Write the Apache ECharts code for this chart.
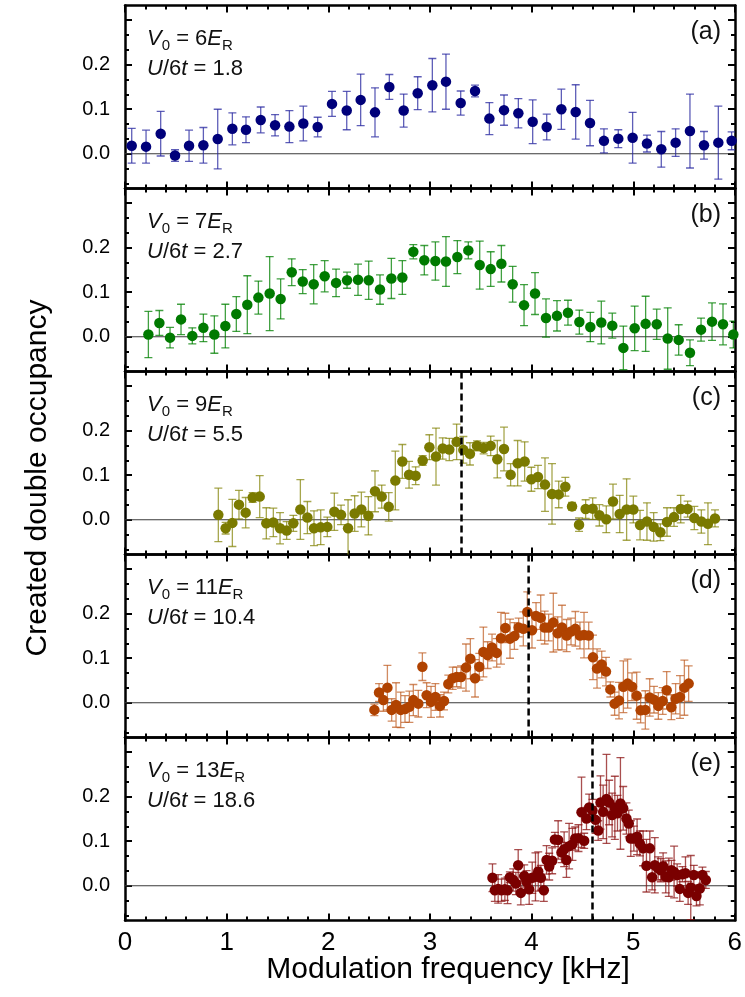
<!DOCTYPE html>
<html>
<head>
<meta charset="utf-8">
<script src="https://cdn.jsdelivr.net/npm/echarts@6/dist/echarts.min.js"></script>
<style>
  html, body { margin: 0; padding: 0; background: #fff; }
  #chart { width: 745px; height: 997px; }
</style>
</head>
<body>
<div id="chart"></div>
<script>
// Modulation frequency (kHz), created double occupancy and its error for each lattice depth
const freqA = [0.066,0.207,0.351,0.492,0.630,0.771,0.912,1.056,1.190,1.335,1.476,1.617,1.754,1.895,2.036,2.181,2.318,2.459,2.600,2.741,2.879,3.023,3.157,3.302,3.443,3.584,3.728,3.869,4.010,4.148,4.292,4.433,4.574,4.711,4.852,4.993,5.134,5.275,5.416,5.557,5.695,5.836,5.967];
const occA = [0.018,0.016,0.045,-0.004,0.018,0.019,0.033,0.056,0.054,0.076,0.064,0.061,0.068,0.060,0.112,0.097,0.121,0.093,0.150,0.097,0.136,0.154,0.162,0.114,0.141,0.079,0.098,0.091,0.072,0.060,0.100,0.094,0.069,0.029,0.034,0.036,0.023,0.010,0.025,0.051,0.019,0.025,0.029];
const errA = [0.039,0.037,0.05,0.013,0.035,0.04,0.067,0.036,0.029,0.029,0.024,0.036,0.039,0.022,0.028,0.043,0.058,0.055,0.028,0.037,0.037,0.06,0.062,0.027,0.013,0.036,0.034,0.033,0.049,0.029,0.045,0.061,0.051,0.027,0.02,0.057,0.019,0.04,0.031,0.083,0.031,0.082,0.02];

const freqB = [0.230,0.338,0.443,0.551,0.662,0.771,0.879,0.987,1.095,1.203,1.312,1.423,1.531,1.640,1.748,1.856,1.964,2.076,2.184,2.292,2.397,2.508,2.620,2.728,2.836,2.944,3.053,3.157,3.269,3.377,3.489,3.597,3.702,3.813,3.925,4.033,4.141,4.249,4.357,4.469,4.577,4.685,4.793,4.902,5.013,5.121,5.230,5.338,5.446,5.557,5.666,5.774,5.882,5.984];
const occB = [0.005,0.031,-0.002,0.039,0.002,0.020,0.005,0.024,0.051,0.072,0.088,0.097,0.085,0.145,0.124,0.118,0.136,0.121,0.127,0.128,0.127,0.106,0.131,0.133,0.191,0.172,0.170,0.169,0.179,0.194,0.161,0.152,0.164,0.118,0.071,0.097,0.042,0.047,0.054,0.033,0.022,0.032,0.025,-0.025,0.019,0.029,0.028,-0.004,-0.007,-0.036,0.016,0.034,0.028,0.005];
const errB = [0.052,0.028,0.023,0.034,0.018,0.031,0.042,0.049,0.039,0.065,0.037,0.083,0.045,0.03,0.027,0.044,0.035,0.031,0.018,0.035,0.043,0.033,0.045,0.038,0.016,0.033,0.043,0.056,0.037,0.019,0.054,0.039,0.041,0.040,0.046,0.047,0.043,0.034,0.028,0.027,0.033,0.048,0.028,0.049,0.05,0.062,0.034,0.069,0.034,0.029,0.026,0.042,0.046,0.03];

const freqC = [0.918,0.990,1.056,1.121,1.187,1.256,1.325,1.390,1.459,1.525,1.590,1.656,1.725,1.794,1.859,1.925,1.990,2.059,2.125,2.194,2.259,2.325,2.394,2.459,2.525,2.594,2.659,2.728,2.794,2.859,2.928,2.994,3.059,3.125,3.190,3.262,3.328,3.393,3.462,3.528,3.597,3.662,3.728,3.793,3.862,3.931,3.997,4.062,4.131,4.200,4.266,4.331,4.397,4.466,4.531,4.600,4.666,4.734,4.800,4.866,4.934,5.000,5.066,5.134,5.200,5.266,5.331,5.400,5.466,5.534,5.600,5.669,5.734,5.803];
const occC = [0.011,-0.019,-0.007,0.034,0.016,0.050,0.052,-0.008,-0.006,-0.019,-0.024,-0.008,0.023,0.005,-0.019,-0.017,-0.016,0.018,0.011,-0.019,0.014,0.023,0.009,0.064,0.052,0.029,0.088,0.131,0.101,0.099,0.133,0.163,0.142,0.160,0.158,0.175,0.157,0.148,0.166,0.161,0.166,0.136,0.159,0.101,0.127,0.131,0.091,0.096,0.079,0.058,0.057,0.074,0.030,-0.011,0.024,0.025,0.010,0.001,0.041,0.013,0.023,0.023,-0.012,-0.004,-0.016,-0.028,-0.005,0.006,0.024,0.024,0.004,-0.004,-0.009,0.003];
const errC = [0.06,0.013,0.053,0.032,0.034,0.011,0.047,0.035,0.032,0.035,0.02,0.018,0.067,0.036,0.039,0.039,0.022,0.042,0.022,0.064,0.04,0.039,0.043,0.046,0.026,0.032,0.066,0.038,0.03,0.02,0.011,0.028,0.064,0.024,0.025,0.04,0.03,0.025,0.011,0.013,0.022,0.042,0.049,0.025,0.051,0.044,0.027,0.026,0.06,0.068,0.03,0.021,0.009,0.015,0.021,0.024,0.024,0.03,0.039,0.042,0.069,0.03,0.033,0.042,0.032,0.019,0.032,0.021,0.031,0.018,0.026,0.026,0.047,0.019];

const freqD = [2.453,2.499,2.541,2.581,2.623,2.666,2.712,2.754,2.797,2.836,2.885,2.925,2.967,3.010,3.053,3.098,3.138,3.180,3.223,3.262,3.305,3.354,3.397,3.443,3.485,3.525,3.567,3.610,3.656,3.698,3.741,3.787,3.830,3.872,3.918,3.957,4.003,4.043,4.089,4.128,4.167,4.213,4.256,4.298,4.344,4.387,4.430,4.475,4.515,4.561,4.603,4.643,4.689,4.731,4.774,4.816,4.859,4.902,4.944,4.987,5.033,5.072,5.118,5.161,5.203,5.246,5.289,5.328,5.374,5.416,5.459,5.502,5.544];
const occD = [-0.016,0.023,0.006,0.034,-0.016,-0.005,-0.016,-0.014,-0.009,0.006,-0.002,0.081,0.017,0.002,0.013,-0.007,0.004,0.042,0.055,0.058,0.058,0.079,0.099,0.055,0.081,0.114,0.107,0.124,0.112,0.145,0.168,0.144,0.150,0.169,0.166,0.204,0.163,0.195,0.191,0.169,0.169,0.180,0.156,0.169,0.151,0.160,0.166,0.151,0.152,0.151,0.102,0.077,0.086,0.070,0.030,-0.002,0.005,0.036,0.043,0.036,0.016,-0.017,-0.016,0.012,0.007,-0.007,0.004,0.028,-0.010,0.009,0.013,0.034,0.043];
const errD = [0.013,0.02,0.025,0.05,0.025,0.05,0.04,0.03,0.035,0.035,0.03,0.031,0.028,0.035,0.03,0.025,0.02,0.02,0.025,0.022,0.025,0.053,0.045,0.042,0.03,0.056,0.03,0.03,0.032,0.058,0.033,0.044,0.03,0.021,0.038,0.045,0.04,0.03,0.051,0.037,0.03,0.066,0.037,0.05,0.036,0.03,0.039,0.03,0.051,0.03,0.05,0.044,0.03,0.032,0.017,0.026,0.041,0.058,0.055,0.031,0.053,0.028,0.043,0.042,0.03,0.03,0.03,0.042,0.028,0.034,0.048,0.062,0.04];

const freqE = [3.616,3.639,3.672,3.705,3.738,3.764,3.787,3.820,3.846,3.869,3.895,3.928,3.951,3.977,4.007,4.039,4.066,4.092,4.121,4.148,4.174,4.203,4.230,4.262,4.295,4.321,4.344,4.370,4.403,4.430,4.462,4.492,4.518,4.541,4.567,4.600,4.630,4.656,4.679,4.705,4.738,4.764,4.793,4.820,4.846,4.875,4.902,4.934,4.957,4.977,5.007,5.039,5.066,5.098,5.131,5.164,5.187,5.213,5.246,5.272,5.295,5.321,5.351,5.377,5.403,5.433,5.459,5.485,5.515,5.541,5.567,5.597,5.623,5.656,5.682,5.715];
const occE = [0.018,-0.010,-0.007,-0.010,-0.008,-0.010,0.019,0.013,0.005,0.046,-0.016,0.022,0.009,-0.008,0.018,0.020,0.032,0.018,-0.010,0.058,0.043,0.056,0.104,0.103,0.075,0.082,0.058,0.089,0.093,0.106,0.107,0.165,0.101,0.151,0.176,0.169,0.148,0.124,0.187,0.166,0.195,0.187,0.159,0.175,0.163,0.185,0.174,0.151,0.140,0.106,0.106,0.110,0.095,0.084,0.045,0.084,0.019,0.046,0.039,0.035,0.044,0.020,0.019,0.035,0.031,0.024,-0.007,0.026,0.028,-0.016,-0.004,0.024,-0.023,-0.006,0.024,0.013];
const errE = [0.031,0.025,0.032,0.025,0.025,0.03,0.012,0.025,0.025,0.035,0.027,0.025,0.025,0.034,0.035,0.054,0.044,0.028,0.025,0.032,0.03,0.029,0.016,0.043,0.023,0.039,0.039,0.051,0.036,0.026,0.03,0.079,0.017,0.025,0.03,0.025,0.03,0.022,0.06,0.06,0.1,0.05,0.049,0.071,0.04,0.103,0.049,0.035,0.03,0.04,0.028,0.04,0.028,0.039,0.059,0.039,0.028,0.062,0.026,0.026,0.03,0.036,0.043,0.022,0.058,0.025,0.028,0.017,0.037,0.026,0.072,0.022,0.022,0.037,0.018,0.019];

// Resonance positions marked by dashed lines (kHz); null where no marker is drawn
const resonance = [null, null, 3.31, 3.97, 4.60];

// Panel annotations
const panelTags = ['(a)', '(b)', '(c)', '(d)', '(e)'];
const latticeDepth = ['6', '7', '9', '11', '13'];
const ratioU6t = ['1.8', '2.7', '5.5', '10.4', '18.6'];

// Axis ticks
const yLabelValues = [0, 0.1, 0.2];
const yMajorTicks = [0, 0.1, 0.2, 0.3];
const yMinorTicks = [-0.0667, -0.0333, 0.0333, 0.0667, 0.1333, 0.1667, 0.2333, 0.2667];

const panels = [
  { x: freqA, y: occA, e: errA, color: '#00007a', bar: 'rgba(40,40,160,0.75)' },
  { x: freqB, y: occB, e: errB, color: '#007a00', bar: 'rgba(0,128,0,0.75)' },
  { x: freqC, y: occC, e: errC, color: '#7a7a00', bar: 'rgba(128,128,0,0.7)' },
  { x: freqD, y: occD, e: errD, color: '#b04200', bar: 'rgba(190,90,30,0.7)' },
  { x: freqE, y: occE, e: errE, color: '#7a0000', bar: 'rgba(140,20,20,0.75)' }
];

const FONT = '"Liberation Sans", Arial, sans-serif';
const Y_MIN = -0.078, Y_MAX = 0.333;
const GRID_LEFT = 125, GRID_W = 610, GRID_TOP = 5.5, GRID_H = 183;

const grids = [], xAxes = [], yAxes = [], series = [], graphics = [];

panels.forEach((p, i) => {
  const top = GRID_TOP + GRID_H * i;
  grids.push({ left: GRID_LEFT, width: GRID_W, top: top, height: GRID_H });

  const isLast = i === panels.length - 1;
  ['bottom', 'top'].forEach(pos => {
    xAxes.push({
      type: 'value', gridIndex: i, position: pos, min: 0, max: 6, interval: 1,
      axisLine: { show: true, onZero: false, lineStyle: { color: '#000', width: 2.5 } },
      axisTick: { show: true, inside: true, length: 7, lineStyle: { color: '#000', width: 2 } },
      minorTick: { show: true, splitNumber: 5, length: 4, lineStyle: { color: '#000', width: 2 } },
      splitLine: { show: false }, minorSplitLine: { show: false },
      axisLabel: (pos === 'bottom' && isLast)
        ? { show: true, fontSize: 26, fontFamily: FONT, color: '#000', margin: 9 }
        : { show: false }
    });
  });

  ['left', 'right'].forEach(pos => {
    yAxes.push({
      type: 'value', gridIndex: i, position: pos, min: Y_MIN, max: Y_MAX,
      axisLine: { show: true, onZero: false, lineStyle: { color: '#000', width: 2.5 } },
      axisTick: { show: true, inside: true, length: 7, customValues: yMajorTicks,
                  lineStyle: { color: '#000', width: 2 } },
      splitLine: { show: false },
      axisLabel: pos === 'left'
        ? { show: true, customValues: yLabelValues, fontSize: 20, fontFamily: FONT, color: '#000',
            margin: 15, formatter: v => v.toFixed(1) }
        : { show: false }
    });
    yAxes.push({
      type: 'value', gridIndex: i, position: pos, min: Y_MIN, max: Y_MAX,
      axisLine: { show: false, onZero: false },
      axisTick: { show: true, inside: true, length: 4, customValues: yMinorTicks,
                  lineStyle: { color: '#000', width: 2 } },
      splitLine: { show: false },
      axisLabel: { show: false }
    });
  });

  const xIdx = 2 * i, yIdx = 4 * i;

  // zero reference line
  series.push({
    type: 'custom', xAxisIndex: xIdx, yAxisIndex: yIdx, z: 1, silent: true,
    data: [[0, 0]],
    renderItem: (params, api) => {
      const cs = params.coordSys;
      const pt = api.coord([0, 0]);
      return { type: 'line', shape: { x1: cs.x, y1: pt[1], x2: cs.x + cs.width, y2: pt[1] },
               style: { stroke: '#3a3a3a', lineWidth: 1.2 } };
    }
  });

  // error bars with caps
  series.push({
    type: 'custom', xAxisIndex: xIdx, yAxisIndex: yIdx, z: 2, silent: true, clip: true,
    encode: { x: 0, y: [1, 2] },
    data: p.x.map((f, k) => [f, p.y[k] - p.e[k], p.y[k] + p.e[k]]),
    renderItem: (params, api) => {
      const hi = api.coord([api.value(0), api.value(2)]);
      const lo = api.coord([api.value(0), api.value(1)]);
      const cap = 4;
      const st = { stroke: p.bar, lineWidth: 1.3 };
      return { type: 'group', children: [
        { type: 'line', shape: { x1: hi[0], y1: hi[1], x2: lo[0], y2: lo[1] }, style: st },
        { type: 'line', shape: { x1: hi[0] - cap, y1: hi[1], x2: hi[0] + cap, y2: hi[1] }, style: st },
        { type: 'line', shape: { x1: lo[0] - cap, y1: lo[1], x2: lo[0] + cap, y2: lo[1] }, style: st }
      ] };
    }
  });

  // data points
  series.push({
    type: 'scatter', xAxisIndex: xIdx, yAxisIndex: yIdx, z: 3, silent: true,
    symbol: 'circle', symbolSize: 10.5,
    itemStyle: { color: p.color, opacity: 1 },
    data: p.x.map((f, k) => [f, p.y[k]])
  });

  // dashed resonance marker
  if (resonance[i] !== null) {
    series.push({
      type: 'custom', xAxisIndex: xIdx, yAxisIndex: yIdx, z: 5, silent: true,
      data: [[resonance[i], 0]],
      renderItem: (params, api) => {
        const cs = params.coordSys;
        const pt = api.coord([api.value(0), 0]);
        return { type: 'line', shape: { x1: pt[0], y1: cs.y, x2: pt[0], y2: cs.y + cs.height },
                 style: { stroke: '#000', lineWidth: 2.5, lineDash: [7, 4] } };
      }
    });
  }

  // panel annotations
  const base = { fontFamily: FONT, fontSize: 22, fill: '#111', lineHeight: 30 };
  const rich = {
    n: Object.assign({}, base),
    i: Object.assign({}, base, { fontStyle: 'italic' }),
    s: { fontFamily: FONT, fontSize: 15, fill: '#111', lineHeight: 16, verticalAlign: 'bottom' }
  };
  graphics.push({
    type: 'text', x: 147, y: top + 33, z: 10, silent: true,
    style: { text: '{i|V}{s|0}{n| = ' + latticeDepth[i] + '}{i|E}{s|R}', rich: rich,
             align: 'left', verticalAlign: 'middle' }
  });
  graphics.push({
    type: 'text', x: 147, y: top + 63, z: 10, silent: true,
    style: { text: '{i|U}{n|/6}{i|t}{n| = ' + ratioU6t[i] + '}', rich: rich,
             align: 'left', verticalAlign: 'middle' }
  });
  graphics.push({
    type: 'text', x: 721, y: top + 27, z: 10, silent: true,
    style: { text: panelTags[i], fontFamily: FONT, fontSize: 25, fill: '#111',
             align: 'right', verticalAlign: 'middle' }
  });
});

// axis titles
graphics.push({
  type: 'text', x: 38, y: 478, rotation: Math.PI / 2, silent: true,
  style: { text: 'Created double occupancy', fontFamily: FONT, fontSize: 30, fill: '#000',
           align: 'center', verticalAlign: 'middle' }
});
graphics.push({
  type: 'text', x: 448, y: 970, silent: true,
  style: { text: 'Modulation frequency [kHz]', fontFamily: FONT, fontSize: 30, fill: '#000',
           align: 'center', verticalAlign: 'middle' }
});

const chart = echarts.init(document.getElementById('chart'), null, { renderer: 'canvas' });
chart.setOption({
  animation: false,
  backgroundColor: '#fff',
  grid: grids,
  xAxis: xAxes,
  yAxis: yAxes,
  series: series,
  graphic: graphics
});
</script>
</body>
</html>
